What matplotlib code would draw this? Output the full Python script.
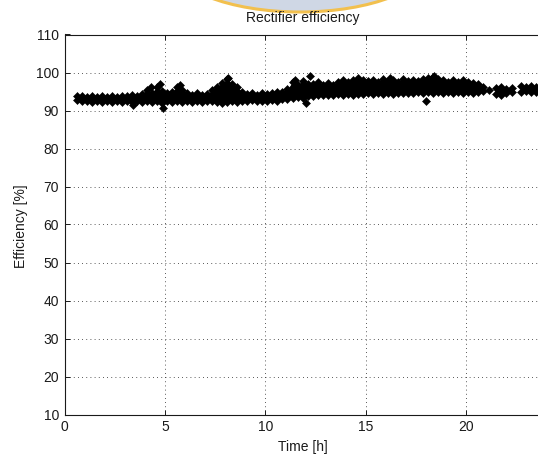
import numpy as np
import matplotlib
matplotlib.use("Agg")
import matplotlib.pyplot as plt
from matplotlib.patches import Ellipse

plt.rcParams['font.family'] = ['Liberation Sans', 'DejaVu Sans']

# ---- data ----
time_a = [0.6, 0.85, 1.1, 1.35, 1.6, 1.85, 2.1, 2.35, 2.6, 2.85, 3.1, 3.35, 3.6, 3.85,
          4.1, 4.35, 4.6, 4.85, 5.1, 5.35, 5.6, 5.85, 6.1, 6.35, 6.6, 6.85, 7.1, 7.35,
          7.6, 7.85, 8.1, 8.35, 8.6, 8.85, 9.1, 9.35, 9.6, 9.85, 10.1, 10.35, 10.6, 10.85,
          11.1, 11.35, 11.6, 11.85, 12.1, 12.35, 12.6, 12.85, 13.1, 13.35, 13.6, 13.85,
          14.1, 14.35, 14.6, 14.85, 15.1, 15.35, 15.6, 15.85, 16.1, 16.35, 16.6, 16.85,
          17.1, 17.35, 17.6, 17.85, 18.1, 18.35, 18.6, 18.85, 19.1, 19.35, 19.6, 19.85,
          20.1, 20.35, 20.6, 20.85]
upper_a = [93.7, 93.9, 93.6, 93.8, 93.5, 93.8, 93.6, 93.9, 93.5, 93.8, 93.7, 94.1, 93.9, 94.3,
           95.5, 94.7, 96.3, 95.1, 94.5, 94.9, 96.3, 95.5, 94.5, 94.2, 94.5, 94.1, 94.4, 95.3,
           96.3, 97.3, 98.2, 97.1, 96.2, 94.9, 94.4, 94.7, 94.2, 94.5, 94.3, 94.7, 95.0, 94.8,
           95.7, 97.5, 96.8, 97.7, 97.1, 96.9, 97.5, 96.8, 97.2, 96.7, 97.4, 97.9,
           97.5, 98.1, 97.6, 98.0, 97.7, 98.1, 97.5, 98.2, 97.8, 98.1, 97.6, 98.2,
           97.8, 98.1, 97.7, 98.3, 98.6, 98.8, 98.4, 97.9, 97.5, 98.0, 97.6, 97.9,
           97.5, 97.3, 97.1, 96.1]
lower_a = [92.7, 92.4, 92.6, 92.3, 92.5, 92.2, 92.5, 92.3, 92.6, 92.3, 92.5, 92.2, 92.4, 92.3,
           92.5, 92.2, 92.4, 92.1, 92.4, 92.2, 92.5, 92.3, 92.4, 92.2, 92.5, 92.3, 92.4, 92.5,
           92.2, 92.1, 92.3, 92.5, 92.3, 92.6, 92.4, 92.7, 92.4, 92.6, 92.5, 92.8, 92.6, 92.9,
           93.1, 93.3, 93.5, 93.4, 93.7, 93.9, 94.1, 94.0, 94.2, 94.1, 94.3, 94.2,
           94.4, 94.2, 94.4, 94.3, 94.5, 94.3, 94.5, 94.4, 94.6, 94.4, 94.6, 94.5,
           94.7, 94.6, 94.8, 94.6, 94.8, 94.7, 94.9, 94.7, 94.8, 94.6, 94.8, 94.7,
           94.9, 94.7, 94.8, 95.1]

time_b = [21.5, 21.75, 22.0, 22.25]
upper_b = [95.9, 96.3, 95.7, 96.0]
lower_b = [94.4, 94.1, 94.6, 94.9]

time_c = [22.7, 22.95, 23.2, 23.45, 23.7, 23.95, 24.2]
upper_c = [96.4, 96.1, 96.5, 96.2, 96.4, 96.1, 96.3]
lower_c = [94.9, 95.1, 94.8, 95.0, 94.9, 95.1, 94.9]

extra_time = [3.4, 4.9, 12.0, 18.0, 21.15, 12.2, 4.3, 4.75, 5.75, 8.15, 11.45, 18.4, 14.6, 16.2]
extra_eff = [91.5, 90.7, 92.0, 92.5, 95.5, 99.1, 96.2, 96.9, 96.8, 98.6, 98.1, 99.1, 98.5, 98.6]

x_ticks = [0, 5, 10, 15, 20]
y_ticks = [10, 20, 30, 40, 50, 60, 70, 80, 90, 100, 110]

# ---- figure ----
W, H = 538, 455
fig = plt.figure(figsize=(W / 100, H / 100), dpi=100)
fig.patch.set_facecolor('white')

ax_left, ax_top, ax_bottom = 64.5, 34.5, 414.5
ax_right = ax_left + 24 * 20.09
ax = fig.add_axes([ax_left / W, (H - ax_bottom) / H,
                   (ax_right - ax_left) / W, (ax_bottom - ax_top) / H])

mk = dict(marker='D', markersize=4.4, color='black', markeredgewidth=0.4, linestyle='none')
for t, up, lo in [(time_a, upper_a, lower_a), (time_b, upper_b, lower_b), (time_c, upper_c, lower_c)]:
    ax.fill_between(t, lo, up, color='black', linewidth=0, zorder=3)
    ax.plot(t, up, **mk, zorder=4)
    ax.plot(t, lo, **mk, zorder=4)
ax.plot(extra_time, extra_eff, **mk, zorder=4)

ax.set_xlim(0, 24)
ax.set_ylim(10, 110)
ax.set_xticks(x_ticks)
ax.set_yticks(y_ticks)
ax.grid(True, color='#222222', linewidth=0.6, linestyle=(0, (1, 4)))
ax.set_axisbelow(True)
ax.tick_params(direction='in', length=3.5, width=0.7, top=True, right=True,
               labelsize=10, colors='#1a1a1a', pad=4)
for s in ax.spines.values():
    s.set_linewidth(0.8)
    s.set_color('#1a1a1a')

fig.text(303 / W, 1 - 18 / H, 'Rectifier efficiency', ha='center', va='center', fontsize=10, color='#1a1a1a')
fig.text(303 / W, 1 - 447 / H, 'Time [h]', ha='center', va='center', fontsize=10, color='#1a1a1a')
fig.text(21 / W, 1 - 226 / H, 'Efficiency [%]', ha='center', va='center', rotation=90,
         fontsize=10, color='#1a1a1a')

# watermark arc at top
ell = Ellipse((300 / W, 1 + 40 / H), 260 / W, 104 / H, transform=fig.transFigure,
              facecolor='#cfd7e5', edgecolor='#f2c04e', linewidth=2.2, zorder=0)
fig.add_artist(ell)

fig.savefig('out.png', dpi=100)
